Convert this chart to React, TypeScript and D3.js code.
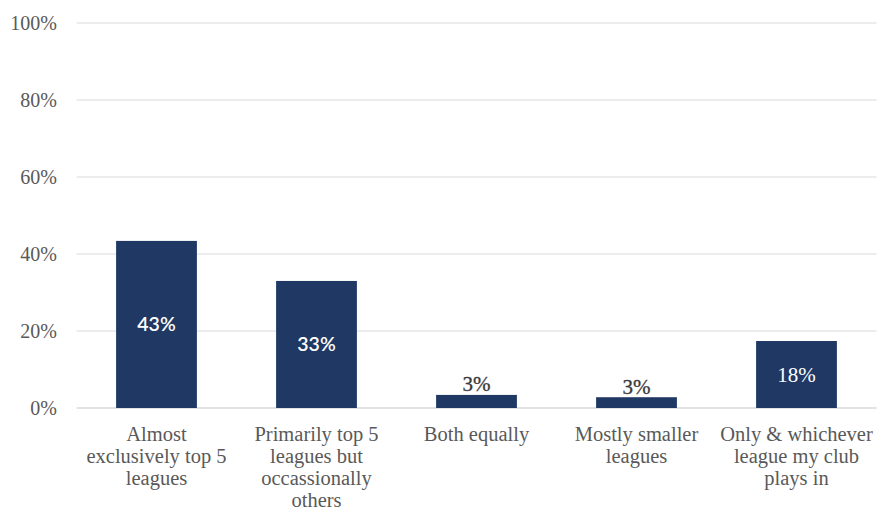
import React from "react";
import * as d3 from "d3";

const categories: string[][] = [
  ["Almost", "exclusively top 5", "leagues"],
  ["Primarily top 5", "leagues but", "occassionally", "others"],
  ["Both equally"],
  ["Mostly smaller", "leagues"],
  ["Only & whichever", "league my club", "plays in"],
];
const values: number[] = [43.4, 33, 3.4, 2.8, 17.4];
const valueLabels: string[] = ["43%", "33%", "3%", "3%", "18%"];
const labelInside: boolean[] = [true, true, false, false, true];
const labelSans: boolean[] = [true, true, false, false, false];
const yTicks: number[] = [0, 20, 40, 60, 80, 100];

const W = 877;
const H = 510;
const plotLeft = 76.5;
const plotRight = 876.5;
const plotTop = 23;
const plotBottom = 408;
const navy = "#203864";
const grey = "#595959";
const serif = "Liberation Serif, DejaVu Serif, serif";
const sans = "Lato, Open Sans, sans-serif";

export default function App() {
  const x = d3
    .scaleBand<number>()
    .domain(values.map((_, i) => i))
    .range([plotLeft, plotRight])
    .paddingInner(0.495)
    .paddingOuter(0.2475);
  const y = d3.scaleLinear().domain([0, 100]).range([plotBottom, plotTop]);

  return (
    <svg
      width={W}
      height={H}
      style={{ position: "absolute", left: 0, top: 0, background: "#fff" }}
    >
      {yTicks.map((t) => (
        <g key={t}>
          <line
            x1={plotLeft}
            x2={plotRight}
            y1={y(t)}
            y2={y(t)}
            stroke={t === 0 ? "#d9d9d9" : "#e6e6e6"}
            strokeWidth={1.3}
          />
          <text
            x={57}
            y={y(t)}
            dy="0.35em"
            textAnchor="end"
            style={{ fontFamily: serif, fontSize: 20 }}
            fill={grey}
          >
            {t}%
          </text>
        </g>
      ))}
      {values.map((v, i) => {
        const bx = x(i)!;
        const bw = x.bandwidth();
        const top = y(v);
        const cx = bx + bw / 2;
        return (
          <g key={i}>
            <rect x={bx} y={top} width={bw} height={plotBottom - top} fill={navy} />
            {labelInside[i] ? (
              <text
                x={cx}
                y={(top + plotBottom) / 2}
                dy="0.35em"
                textAnchor="middle"
                style={{
                  fontFamily: labelSans[i] ? sans : serif,
                  fontSize: labelSans[i] ? 19.5 : 21,
                  fontWeight: labelSans[i] ? 600 : 400,
                }}
                fill="#fff"
              >
                {valueLabels[i]}
              </text>
            ) : (
              <text
                x={cx}
                y={top - 3.5}
                textAnchor="middle"
                style={{ fontFamily: serif, fontSize: 21 }}
                fill="#3a3a3a"
                stroke="#3a3a3a"
                strokeWidth={0.3}
              >
                {valueLabels[i]}
              </text>
            )}
            {categories[i].map((line, j) => (
              <text
                key={j}
                x={cx}
                y={441 + j * 22}
                textAnchor="middle"
                style={{ fontFamily: serif, fontSize: 20.5 }}
                fill={grey}
              >
                {line}
              </text>
            ))}
          </g>
        );
      })}
    </svg>
  );
}
